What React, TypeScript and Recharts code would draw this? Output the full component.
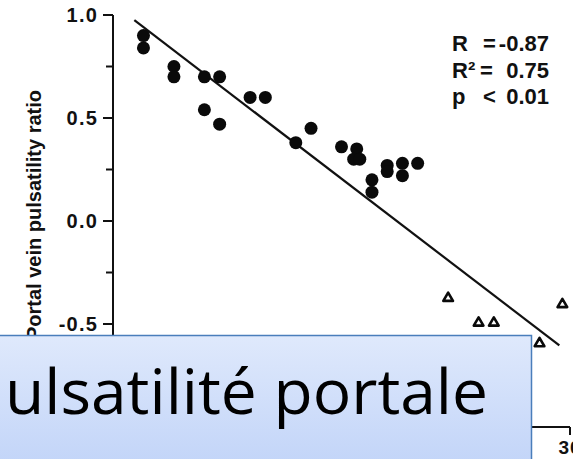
import React from 'react';
import { ScatterChart, Scatter, XAxis, YAxis, ReferenceLine } from 'recharts';

// Filled circles (group 1)
const groupAX = [2, 2, 4, 4, 6, 7, 6, 7, 9, 10, 12, 13, 15, 16, 15.8, 16.2, 17, 17, 18, 18, 19, 19, 20];
const groupAY = [0.90, 0.84, 0.75, 0.70, 0.70, 0.70, 0.54, 0.47, 0.60, 0.60, 0.38, 0.45, 0.36, 0.35, 0.30, 0.30, 0.20, 0.14, 0.27, 0.24, 0.28, 0.22, 0.28];

// Open triangles (group 2)
const groupBX = [22, 24, 25, 28, 29.5];
const groupBY = [-0.37, -0.49, -0.49, -0.59, -0.40];

// Regression line end points
const fitX = [1.4, 29.3];
const fitY = [0.975, -0.604];

const yTicks = [-1, -0.75, -0.5, -0.25, 0, 0.25, 0.5, 0.75, 1];
const yMajor = [-1, -0.5, 0, 0.5, 1];
// the -1.0 label lies under the text box in the reference, so it is left blank
const yLabels = ['', '-0.5', '0.0', '0.5', '1.0'];
const xTicks = [0, 5, 10, 15, 20, 25, 30];
const xLabelled = [30];

const yAxisTitle = 'Portal vein pulsatility ratio';
const statLabels = ['R', 'R²', 'p'];
const statOps = ['=', '=', '<'];
const statValues = ['-0.87', '0.75', '0.01'];
const overlayLine1 = 'ulsatilité portale';
const overlayLine2 = 'et sévérité (%)';

const groupA = groupAX.map((x, i) => ({ x, y: groupAY[i] }));
const groupB = groupBX.map((x, i) => ({ x, y: groupBY[i] }));

const FONT = '"Liberation Sans", Arial, Helvetica, sans-serif';

const TICK_SIZE = 10;
const TICK_MARGIN = 5;

const YTick = (props: any) => {
  const { x, y, payload } = props;
  const v = payload.value;
  const idx = yMajor.findIndex((m) => Math.abs(m - v) < 1e-9);
  const axisX = x + TICK_SIZE + TICK_MARGIN;
  const major = idx >= 0;
  return (
    <g>
      <line x1={axisX - (major ? 10 : 7)} x2={axisX} y1={y} y2={y} stroke="#111" strokeWidth={2} />
      {major && yLabels[idx] !== '' && (
        <text x={x} y={y} dy="0.36em" textAnchor="end" fontFamily={FONT} fontWeight="bold" fontSize={20} letterSpacing={1.2} fill="#111">
          {yLabels[idx]}
        </text>
      )}
    </g>
  );
};

const XTick = (props: any) => {
  const { x, y, payload } = props;
  if (!xLabelled.includes(payload.value)) return <g />;
  return (
    <text x={x} y={y} dy="0.9em" textAnchor="middle" fontFamily={FONT} fontWeight="bold" fontSize={19} letterSpacing={1} fill="#111">
      {String(payload.value)}
    </text>
  );
};

const Dot = (props: any) => {
  const { cx, cy } = props;
  if (cx == null || cy == null) return null;
  return <circle cx={cx} cy={cy} r={6.5} fill="#0a0a0a" />;
};

const Tri = (props: any) => {
  const { cx, cy } = props;
  if (cx == null || cy == null) return null;
  const s = 4.6;
  const pts = `${cx},${cy - s} ${cx - s * 1.05},${cy + s * 0.8} ${cx + s * 1.05},${cy + s * 0.8}`;
  return <polygon points={pts} fill="#fff" stroke="#0a0a0a" strokeWidth={2.6} strokeLinejoin="round" />;
};

const YTitle = (props: any) => {
  const vb = props.viewBox || { x: 0, y: 15, width: 113, height: 412 };
  const cx = vb.x + 41;
  const cy = vb.y + vb.height / 2 - 6;
  return (
    <text
      x={cx}
      y={cy}
      transform={`rotate(-90 ${cx} ${cy})`}
      textAnchor="middle"
      fontFamily={FONT}
      fontWeight="bold"
      fontSize={20}
      fill="#111"
    >
      {yAxisTitle}
    </text>
  );
};

export default function App() {
  return (
    <div style={{ position: 'absolute', left: 0, top: 0, width: 573, height: 459, background: '#fff', overflow: 'hidden' }}>
      <ScatterChart width={573} height={459} margin={{ top: 15, right: 3, bottom: 0, left: 0 }}>
        <XAxis
          type="number"
          dataKey="x"
          domain={[0, 30]}
          ticks={xTicks}
          height={32}
          axisLine={{ stroke: '#111', strokeWidth: 2 }}
          tickLine={{ stroke: '#111', strokeWidth: 2 }}
          tickSize={8}
          tick={<XTick />}
          interval={0}
          allowDataOverflow
        />
        <YAxis
          type="number"
          dataKey="y"
          domain={[-1, 1]}
          ticks={yTicks}
          width={113}
          axisLine={{ stroke: '#111', strokeWidth: 2 }}
          tickLine={false}
          tickSize={TICK_SIZE}
          tickMargin={TICK_MARGIN}
          tick={<YTick />}
          interval={0}
          label={(p: any) => <YTitle {...p} />}
          allowDataOverflow
        />
        <ReferenceLine
          segment={[
            { x: fitX[0], y: fitY[0] },
            { x: fitX[1], y: fitY[1] },
          ]}
          stroke="#111"
          strokeWidth={2.2}
          ifOverflow="visible"
        />
        <Scatter data={groupA} shape={<Dot />} isAnimationActive={false} />
        <Scatter data={groupB} shape={<Tri />} isAnimationActive={false} />
      </ScatterChart>
      <svg width={573} height={459} style={{ position: 'absolute', left: 0, top: 0, pointerEvents: 'none' }}>
        <defs>
          <linearGradient id="boxGrad" x1="0" y1="0" x2="0" y2="1">
            <stop offset="0%" stopColor="#dfe9fc" />
            <stop offset="100%" stopColor="#c0d3f8" />
          </linearGradient>
        </defs>
        <g fontFamily={FONT} fontWeight="bold" fontSize={22} fill="#111">
          {statLabels.map((l, i) => (
            <g key={l}>
              <text x={452} y={51 + i * 26.5}>{l}</text>
              <text x={i === 1 ? 480 : 483} y={51 + i * 26.5}>{statOps[i]}</text>
              <text x={549} y={51 + i * 26.5} textAnchor="end">{statValues[i]}</text>
            </g>
          ))}
        </g>
        <rect x={-2} y={335.5} width={533.5} height={140} fill="url(#boxGrad)" stroke="#4a7ebb" strokeWidth={1.5} />
        <text x={5} y={414} fontFamily='"Open Sans", "Noto Sans", sans-serif' fontSize={62} fill="#000" textLength={483} lengthAdjust="spacingAndGlyphs">
          {overlayLine1}
        </text>
        <text x={-32} y={511} fontFamily='"Open Sans", "Noto Sans", sans-serif' fontSize={62} fill="#000" textLength={340} lengthAdjust="spacingAndGlyphs">
          {overlayLine2}
        </text>
      </svg>
    </div>
  );
}
